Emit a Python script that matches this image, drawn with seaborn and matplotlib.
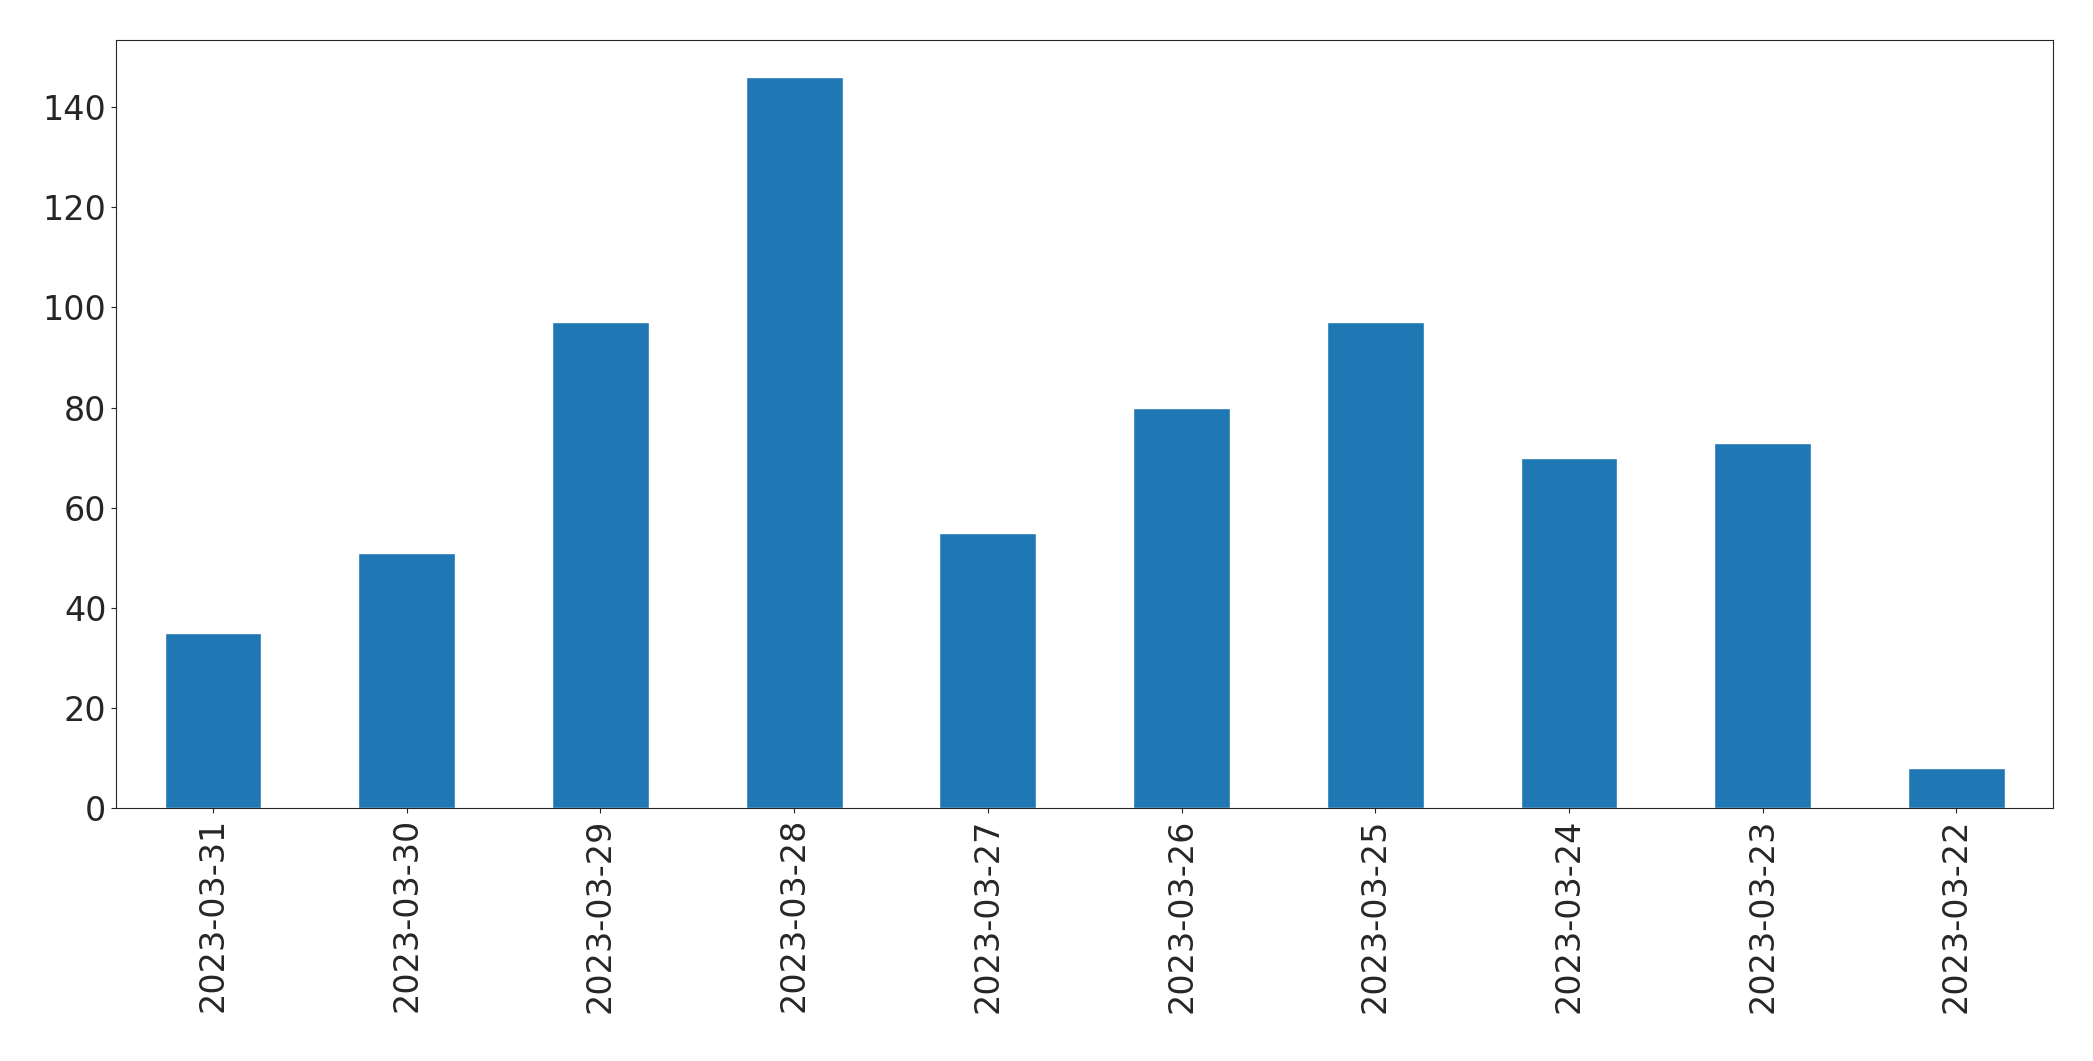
import seaborn as sns
import matplotlib.pyplot as plt
import pandas as pd

dates = ["2023-03-31", "2023-03-30", "2023-03-29", "2023-03-28", "2023-03-27",
         "2023-03-26", "2023-03-25", "2023-03-24", "2023-03-23", "2023-03-22"]
counts = [35, 51, 97, 146, 55, 80, 97, 70, 73, 8]

df = pd.DataFrame({"date": dates, "count": counts})

sns.set_style("ticks")
plt.rcParams["font.family"] = ["DejaVu Sans"]

fig = plt.figure(figsize=(20.93, 10.61), dpi=100)
ax = fig.add_axes([0.0555, 0.238, 0.9255, 0.724])
sns.barplot(x="date", y="count", data=df, color="#1f77b4", saturation=1, width=0.5, ax=ax)
ax.set_xlim(-0.5, len(dates) - 0.5)
ax.set_ylim(0, 153.3)
ax.set_xlabel("")
ax.set_ylabel("")
ax.tick_params(axis="both", labelsize=24)
plt.setp(ax.get_xticklabels(), rotation=90)
for s in ax.spines.values():
    s.set_visible(True)
    s.set_linewidth(0.8)
fig.savefig("out.png", dpi=100)
